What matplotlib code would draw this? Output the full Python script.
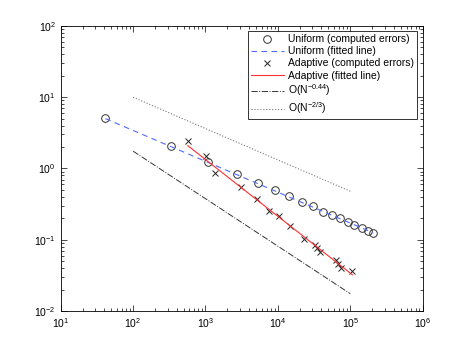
import matplotlib
matplotlib.use("Agg")
import matplotlib.pyplot as plt
import numpy as np

plt.rcParams['font.family'] = ['Liberation Sans', 'DejaVu Sans']
plt.rcParams['mathtext.default'] = 'regular'

# uniform refinement: degrees of freedom and computed errors
uniform_N = [41.5, 332, 1100, 2690, 5290, 9080, 14050, 21460, 30150,
             41500, 55740, 71900, 93600, 113300, 143400, 175300, 207400]
uniform_err = [5.05, 2.08, 1.22, 0.841, 0.628, 0.491, 0.413, 0.340, 0.294,
               0.249, 0.223, 0.199, 0.176, 0.160, 0.145, 0.133, 0.125]

# adaptive refinement
adaptive_N = [570, 1010, 1368, 3100, 5070, 7430, 10220, 14650, 23080,
              32750, 35000, 38640, 63700, 68600, 75500, 107200]
adaptive_err = [2.40, 1.52, 0.869, 0.542, 0.373, 0.252, 0.214, 0.157, 0.104,
                0.083, 0.076, 0.0675, 0.0524, 0.0463, 0.0407, 0.0361]

# fitted lines (end points)
uniform_fit_N = [41.5, 207400]
uniform_fit_err = [5.0, 0.125]
adaptive_fit_N = [570, 107200]
adaptive_fit_err = [2.09, 0.0322]

# reference slopes
ref_N = [100, 1e5]
ref_dashdot = [1.75, 0.0175]
ref_dotted = [10.0, 0.479]

fig = plt.figure(figsize=(4.67, 3.51), dpi=100)
ax = fig.add_axes([0.13, 0.114, 0.775, 0.812])

ax.loglog(uniform_N, uniform_err, 'o', mfc='none', mec='#333333', ms=5.5, mew=0.7,
          label='Uniform (computed errors)')
ax.loglog(uniform_fit_N, uniform_fit_err, '--', color='#4f6bff', lw=0.8, dashes=(5, 4),
          label='Uniform (fitted line)')
ax.loglog(adaptive_N, adaptive_err, 'x', color='#222222', ms=4, mew=0.7,
          label='Adaptive (computed errors)')
ax.loglog(adaptive_fit_N, adaptive_fit_err, '-', color='#ff3030', lw=0.8,
          label='Adaptive (fitted line)')
ax.loglog(ref_N, ref_dashdot, '-.', color='#333333', lw=0.7,
          label='O(N$^{-0.44}$)')
ax.loglog(ref_N, ref_dotted, ':', color='#777777', lw=0.8,
          label='O(N$^{-2/3}$)')

ax.set_xlim(1e1, 1e6)
ax.set_ylim(1e-2, 1e2)
ax.tick_params(which='both', direction='in', top=True, right=True, labelsize=7.5)
ax.tick_params(which='major', length=4, width=0.5)
ax.tick_params(which='minor', length=2, width=0.5)
for s in ax.spines.values():
    s.set_linewidth(0.6)

leg = ax.legend(loc='upper right', fontsize=7.5, frameon=True, fancybox=False,
                edgecolor='black', borderaxespad=0.5, handlelength=3.2,
                labelspacing=0.2, borderpad=0.3, handletextpad=0.4)
leg.get_frame().set_linewidth(0.7)

fig.savefig('out.png', dpi=100)
